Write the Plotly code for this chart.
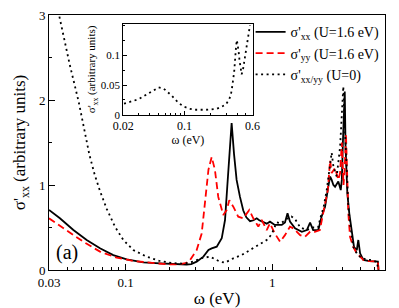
import numpy as np
import plotly.graph_objects as go

# ---------------- data ----------------
# sigma'_xx, U = 1.6 eV (solid black)
xx_x = [0.03, 0.0356, 0.044, 0.0542, 0.0668, 0.0823, 0.1016, 0.132, 0.171, 0.223, 0.26,
        0.28, 0.305, 0.339, 0.367, 0.386, 0.418, 0.452, 0.476, 0.493, 0.509, 0.528, 0.548,
        0.571, 0.602, 0.634, 0.665, 0.705, 0.745, 0.783, 0.815, 0.847, 0.88, 0.916, 0.964,
        1.04, 1.16, 1.22, 1.27, 1.32, 1.43, 1.59, 1.72, 1.81, 1.9, 2.06, 2.17, 2.29, 2.41,
        2.48, 2.54, 2.61, 2.68, 2.82, 2.93, 2.98, 3.03, 3.08, 3.12, 3.16, 3.2, 3.25, 3.35,
        3.48, 3.61, 3.77, 3.86, 3.97, 4.18, 4.6, 5.15, 5.25, 5.3]
xx_y = [0.706, 0.608, 0.47, 0.353, 0.255, 0.176, 0.126, 0.09, 0.078, 0.067, 0.065,
        0.07, 0.098, 0.157, 0.235, 0.255, 0.275, 0.373, 0.588, 0.98, 1.37, 1.73, 1.37,
        1.06, 0.86, 0.70, 0.62, 0.575, 0.585, 0.608, 0.585, 0.569, 0.56, 0.545, 0.569,
        0.53, 0.53, 0.56, 0.667, 0.57, 0.49, 0.45, 0.47, 0.557, 0.47, 0.47, 0.63, 0.745,
        0.98, 1.1, 1.06, 1.0, 0.98, 1.04, 0.94, 1.06, 1.5, 2.0, 2.1, 1.45, 1.1, 0.9, 0.667,
        0.43, 0.27, 0.235, 0.353, 0.196, 0.118, 0.105, 0.098, 0.098, 0.0]

# sigma'_yy, U = 1.6 eV (dashed red)
yy_x = [0.03, 0.0396, 0.0514, 0.0668, 0.0869, 0.113, 0.147, 0.19, 0.234, 0.26, 0.275,
        0.305, 0.33, 0.348, 0.367, 0.386, 0.406, 0.428, 0.463, 0.489, 0.509, 0.542, 0.586,
        0.634, 0.697, 0.742, 0.803, 0.847, 0.916, 0.964, 1.04, 1.13, 1.22, 1.32, 1.39,
        1.55, 1.67, 1.81, 1.95, 2.11, 2.25, 2.39, 2.48, 2.54, 2.68, 2.82, 2.9, 2.98, 3.06,
        3.12, 3.18, 3.24, 3.3, 3.39, 3.57, 3.77, 3.97, 4.18, 4.6, 5.15, 5.25, 5.3]
yy_y = [0.608, 0.47, 0.333, 0.216, 0.145, 0.106, 0.086, 0.067, 0.067, 0.085, 0.118,
        0.235, 0.43, 0.78, 1.18, 1.33, 1.18, 0.86, 0.647, 0.706, 0.82, 0.745, 0.627,
        0.608, 0.706, 0.608, 0.51, 0.588, 0.47, 0.55, 0.43, 0.333, 0.41, 0.51, 0.49,
        0.41, 0.39, 0.45, 0.45, 0.47, 0.706, 0.94, 1.29, 1.14, 1.2, 1.06, 1.14, 1.5, 1.0,
        1.2, 1.6, 1.0, 0.667, 0.39, 0.27, 0.196, 0.157, 0.118, 0.105, 0.098, 0.098, 0.0]

# sigma'_xx/yy, U = 0 (dotted black)
u0_x = [0.03, 0.0352, 0.0415, 0.0478, 0.0565, 0.0615, 0.0668, 0.0742, 0.0845, 0.0964,
        0.1127, 0.139, 0.171, 0.211, 0.25, 0.29, 0.33, 0.376, 0.41, 0.44, 0.475, 0.542,
        0.618, 0.705, 0.803, 0.916, 0.99, 1.07, 1.15, 1.25, 1.35, 1.43, 1.55, 1.72, 1.9,
        2.05, 2.17, 2.23, 2.35, 2.48, 2.54, 2.61, 2.75, 2.9, 2.97, 3.05, 3.13, 3.22, 3.3,
        3.39, 3.48, 3.57, 3.77, 4.07, 4.64, 5.15, 5.3]
u0_y = [3.55, 3.0, 2.42, 1.98, 1.36, 1.12, 0.93, 0.72, 0.51, 0.353,
        0.235, 0.157, 0.106, 0.08, 0.075, 0.1, 0.14, 0.157, 0.12, 0.098, 0.086, 0.137,
        0.176, 0.235, 0.294, 0.353, 0.42, 0.56, 0.55, 0.6, 0.63, 0.6, 0.5, 0.47, 0.5,
        0.5, 0.667, 0.725, 0.94, 1.22, 1.38, 1.22, 1.1, 1.45, 1.76, 2.16, 1.65, 1.06, 0.745,
        0.55, 0.39, 0.27, 0.196, 0.137, 0.118, 0.098, 0.0]

# inset: sigma'_xx (U=0), low-frequency region
ins_x = [0.0204, 0.0234, 0.0267, 0.0305, 0.0348, 0.0393, 0.0445, 0.0507, 0.0578, 0.0653,
         0.0719, 0.0793, 0.0887, 0.1004, 0.1146, 0.1316, 0.151, 0.1758, 0.204, 0.234,
         0.265, 0.297, 0.324, 0.339, 0.348, 0.357, 0.364, 0.369, 0.373, 0.376, 0.379,
         0.383, 0.389, 0.397, 0.405, 0.416, 0.426, 0.436, 0.45, 0.465, 0.48, 0.50, 0.515,
         0.53, 0.545, 0.56]
ins_y = [0.019, 0.021, 0.024, 0.027, 0.032, 0.037, 0.041, 0.046, 0.044, 0.038,
         0.032, 0.025, 0.0185, 0.0136, 0.0103, 0.0087, 0.0082, 0.0087, 0.0093, 0.0103,
         0.0136, 0.0175, 0.026, 0.034, 0.044, 0.053, 0.062, 0.071, 0.080, 0.090, 0.098,
         0.107, 0.116, 0.125, 0.118, 0.105, 0.09, 0.078, 0.068, 0.075, 0.088, 0.1, 0.113,
         0.127, 0.14, 0.15]

main_xtick_vals = [0.03, 0.1, 1]
main_xtick_text = ["0.03", "0.1", "1"]
main_ytick_vals = [0, 1, 2, 3]
ins_xtick_vals = [0.02, 0.1, 0.6]
ins_xtick_text = ["0.02", "0.1", "0.6"]
ins_ytick_vals = [0, 0.05, 0.1]
ins_ytick_text = ["0", "0.05", "0.1"]

names = ["σ'<sub>xx</sub> (U=1.6 eV)", "σ'<sub>yy</sub> (U=1.6 eV)", "σ'<sub>xx/yy</sub> (U=0)"]

FONT = "Liberation Serif, Times New Roman, serif"

fig = go.Figure()
fig.add_trace(go.Scatter(x=xx_x, y=xx_y, mode="lines", name=names[0],
                         line=dict(color="black", width=1.8)))
fig.add_trace(go.Scatter(x=yy_x, y=yy_y, mode="lines", name=names[1],
                         line=dict(color="#ff0000", width=1.8, dash="7px,4px")))
fig.add_trace(go.Scatter(x=u0_x, y=u0_y, mode="lines", name=names[2],
                         line=dict(color="black", width=1.8, dash="2px,3.5px")))
fig.add_trace(go.Scatter(x=ins_x, y=ins_y, mode="lines", showlegend=False,
                         xaxis="x2", yaxis="y2",
                         line=dict(color="black", width=1.8, dash="2px,3.5px")))

minor_main_x = [0.04, 0.05, 0.06, 0.07, 0.08, 0.09, 0.2, 0.3, 0.4, 0.5, 0.6, 0.7, 0.8, 0.9,
                2, 3, 4, 5]
minor_ins_x = [0.03, 0.04, 0.05, 0.06, 0.07, 0.08, 0.09, 0.2, 0.3, 0.4, 0.5]

axis_common = dict(showline=True, linecolor="black", linewidth=1, mirror=True,
                   showgrid=False, zeroline=False, ticks="inside", tickcolor="black",
                   color="black", automargin=False)

fig.update_layout(
    width=399, height=308,
    margin=dict(l=49, r=14, t=15, b=38, autoexpand=False),
    paper_bgcolor="white", plot_bgcolor="white",
    font=dict(family=FONT, color="black"),
    showlegend=True,
    legend=dict(x=0.6, y=0.995, xanchor="left", yanchor="top",
                bgcolor="rgba(0,0,0,0)", font=dict(size=14, family=FONT),
                tracegroupgap=0, itemwidth=30),
    xaxis=dict(type="log", range=[np.log10(0.03), np.log10(5.87)],
               tickvals=main_xtick_vals, ticktext=main_xtick_text, ticklen=6,
               tickfont=dict(size=13, family=FONT),
               minor=dict(tickvals=minor_main_x, ticks="inside", ticklen=3, tickcolor="black"),
               title=dict(text="ω (eV)", font=dict(size=17, family=FONT), standoff=5),
               **axis_common),
    yaxis=dict(range=[0, 3], tickvals=main_ytick_vals, ticklen=6,
               tickfont=dict(size=13, family=FONT),
               minor=dict(dtick=0.5, ticks="inside", ticklen=3, tickcolor="black"),
               title=dict(text="σ'<sub>xx</sub> (arbitrary units)",
                          font=dict(size=17, family=FONT), standoff=8),
               **axis_common),
    xaxis2=dict(type="log", range=[np.log10(0.02), np.log10(0.6)],
                domain=[0.221, 0.606], anchor="y2",
                tickvals=ins_xtick_vals, ticktext=ins_xtick_text, ticklen=4,
                tickfont=dict(size=12, family=FONT),
                minor=dict(tickvals=minor_ins_x, ticks="inside", ticklen=2, tickcolor="black"),
                title=dict(text="ω (eV)", font=dict(size=12, family=FONT), standoff=0),
                **axis_common),
    yaxis2=dict(range=[0, 0.152], domain=[0.608, 0.965], anchor="x2",
                tickvals=ins_ytick_vals, ticktext=ins_ytick_text, ticklen=4,
                tickfont=dict(size=11, family=FONT),
                minor=dict(dtick=0.025, ticks="inside", ticklen=2, tickcolor="black"),
                title=dict(text="σ'<sub>xx</sub> (arbitrary units)",
                           font=dict(size=11, family=FONT), standoff=2),
                **axis_common),
    annotations=[dict(text="(a)", x=0.015, y=0.015, xref="paper", yref="paper",
                      xanchor="left", yanchor="bottom", showarrow=False,
                      font=dict(size=20, family=FONT, color="black"))],
)

fig.write_html("out.html",
               config={"displayModeBar": False, "staticPlot": True},
               post_script="document.body.style.margin='0';document.body.style.padding='0';")
